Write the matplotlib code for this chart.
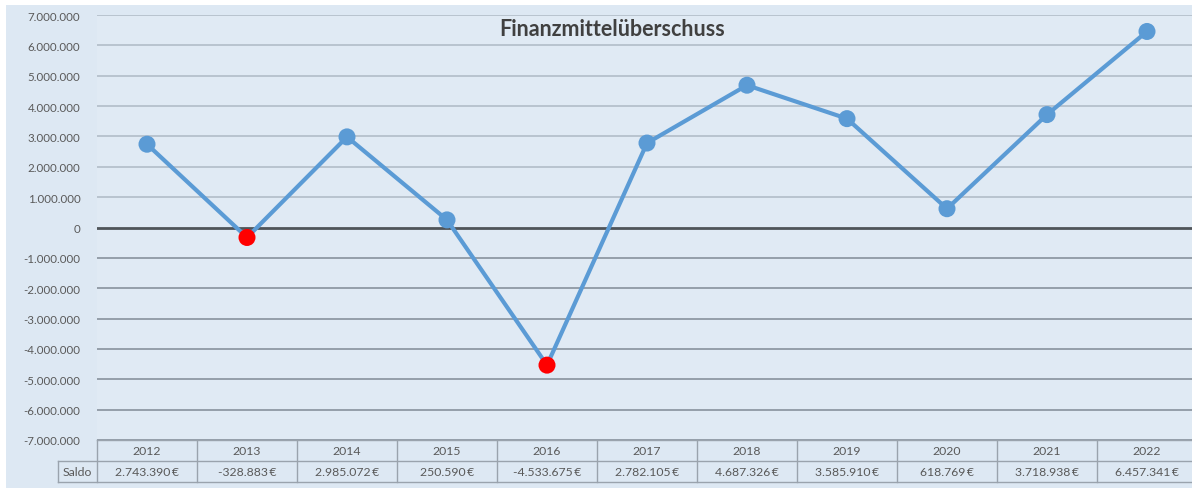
import matplotlib
matplotlib.use("Agg")
import matplotlib.pyplot as plt
from matplotlib.ticker import FuncFormatter, MultipleLocator
from matplotlib.lines import Line2D
import numpy as np

years = ["2012", "2013", "2014", "2015", "2016", "2017", "2018", "2019", "2020", "2021", "2022"]
saldo = [2743390, -328883, 2985072, 250590, -4533675, 2782105, 4687326, 3585910, 618769, 3718938, 6457341]
title = "Finanzmittelüberschuss"
row_label = "Saldo"

plt.rcParams['font.family'] = ['Lato', 'DejaVu Sans']

W, H = 1192, 489
fig = plt.figure(figsize=(W / 100, H / 100), dpi=100)
fig.patch.set_facecolor("white")

bg = "#dde8f3"
# chart background (white margin on top and left)
fig.patches.append(plt.Rectangle((6 / W, 0), 1, 1 - 6 / H, transform=fig.transFigure,
                                 facecolor=bg, edgecolor="none", zorder=-10))

left, right = 97 / W, 1197 / W
top, bottom = 1 - 16 / H, 1 - 441 / H
ax = fig.add_axes([left, bottom, right - left, top - bottom])
ax.set_zorder(5)
ax.set_facecolor("#e0eaf4")

x = np.arange(len(years))
ax.set_xlim(-0.5, len(years) - 0.5)
ax.set_ylim(-7000000, 7000000)
ax.yaxis.set_major_locator(MultipleLocator(1000000))

def fmt(v, pos=None):
    v = int(round(v))
    s = f"{abs(v):,}".replace(",", ".")
    return ("-" if v < 0 else "") + s

ax.yaxis.set_major_formatter(FuncFormatter(fmt))
ax.tick_params(axis="y", length=0, labelsize=8.3, labelcolor="#595959", pad=12)
ax.set_xticks([])
for s in ax.spines.values():
    s.set_visible(False)

# gridlines
for v in range(-7000000, 7000001, 1000000):
    if v == 0:
        continue
    c = "#b5c0cc" if v > 0 else "#8f99a4"
    ax.axhline(v, color=c, lw=1.3, zorder=1)
ax.axhline(0, color="#4f5459", lw=2, zorder=2)

line_color = "#5b9bd5"
ax.plot(x, saldo, color=line_color, lw=3, zorder=3)
cols = ["#ff0000" if v < 0 else line_color for v in saldo]
ax.scatter(x, saldo, s=150, c=cols, zorder=4, edgecolors="none")

ax.text(0.468, 1 - 14 / 425, title, transform=ax.transAxes, ha="center", va="center",
        fontsize=15.5, fontweight="bold", color="#404040")

# data table below the axes
tc = "#9aa3ad"
tr = fig.transFigure
y_top, y_mid, y_bot = 1 - 441 / H, 1 - 462 / H, 1 - 483 / H
xl = 58 / W
col_w = (right - left) / len(years)
fig.add_artist(Line2D([left, right], [y_top, y_top], color=tc, lw=1, transform=tr))
fig.add_artist(Line2D([xl, right], [y_mid, y_mid], color=tc, lw=1, transform=tr))
fig.add_artist(Line2D([xl, right], [y_bot, y_bot], color=tc, lw=1, transform=tr))
fig.add_artist(Line2D([xl, xl], [y_mid, y_bot], color=tc, lw=1, transform=tr))
for i in range(len(years) + 1):
    xx = left + i * col_w
    fig.add_artist(Line2D([xx, xx], [y_top, y_bot], color=tc, lw=1, transform=tr))
for i, (yr, v) in enumerate(zip(years, saldo)):
    xc = left + (i + 0.5) * col_w
    fig.text(xc, (y_top + y_mid) / 2, yr, ha="center", va="center", fontsize=8.8, color="#595959")
    fig.text(xc, (y_mid + y_bot) / 2, fmt(v) + "\u2009€", ha="center", va="center", fontsize=8.8, color="#595959")
fig.text((xl + left) / 2, (y_mid + y_bot) / 2, row_label, ha="center", va="center", fontsize=8.8, color="#595959")

fig.savefig("out.png", dpi=100, facecolor=fig.get_facecolor())
